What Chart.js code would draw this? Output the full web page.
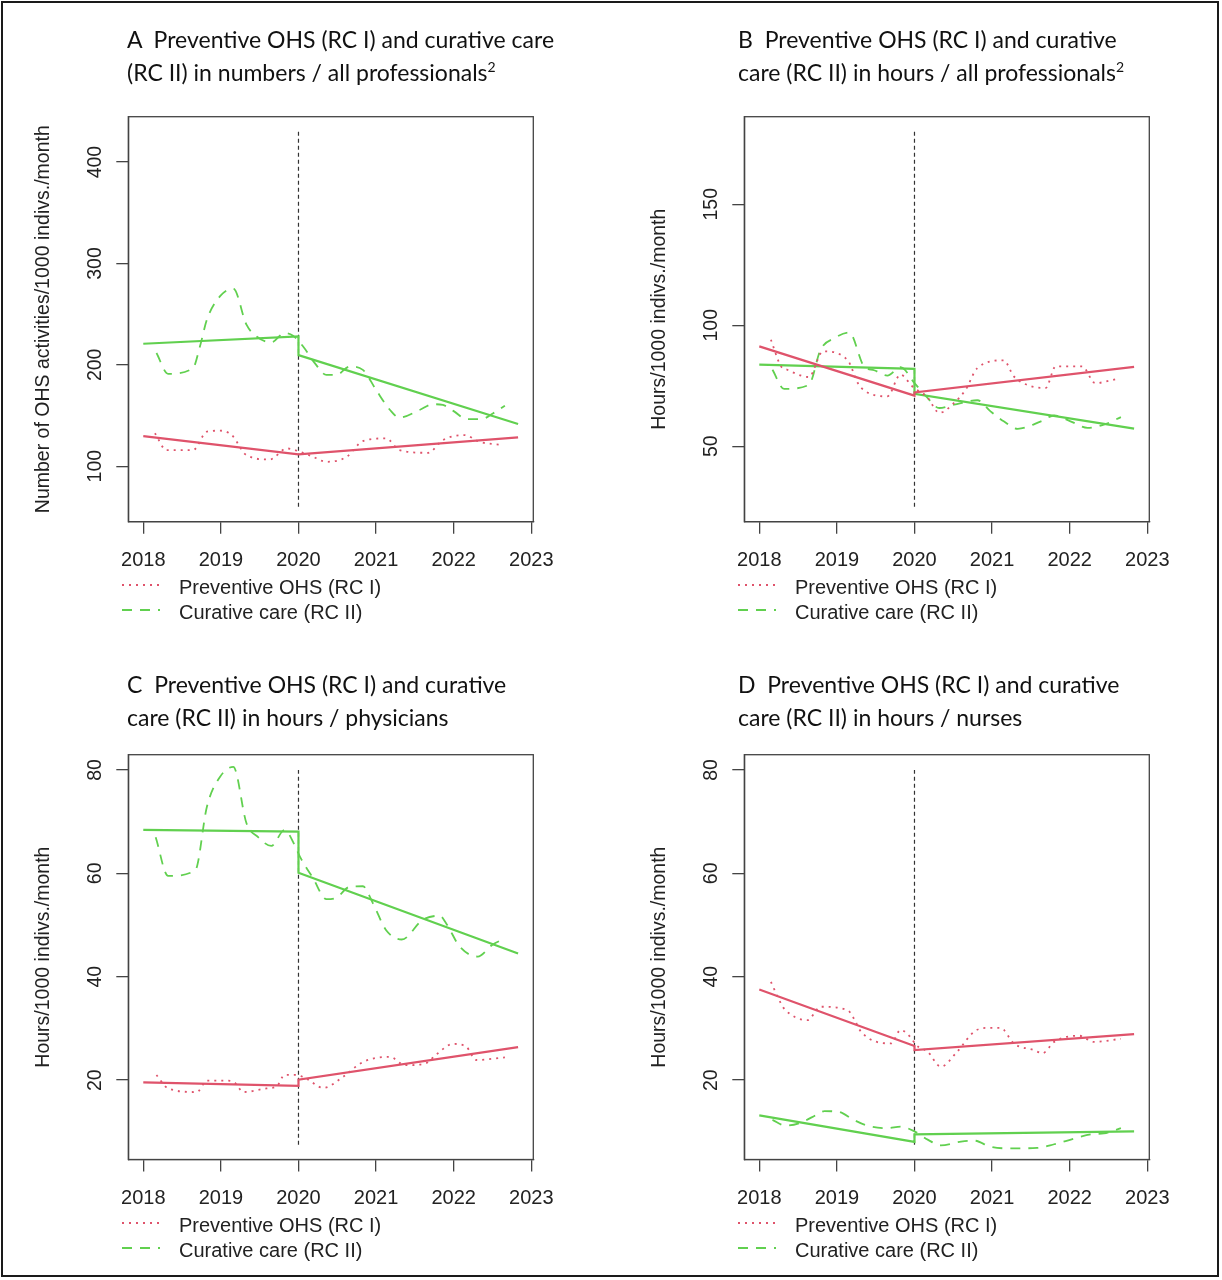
<!DOCTYPE html>
<html>
<head>
<meta charset="utf-8">
<script src="https://cdn.jsdelivr.net/npm/chart.js@4.4.1/dist/chart.umd.min.js"></script>
<style>
html,body{margin:0;padding:0;background:#fff;}
#page{position:relative;width:1222px;height:1280px;overflow:hidden;background:#fff;}
#frame{position:absolute;left:1px;top:1px;width:1214px;height:1272px;border:2px solid #1a1a1a;}
canvas{position:absolute;}
.title{position:absolute;font-family:Lato,'Open Sans',sans-serif;font-size:23px;line-height:33px;color:#111;white-space:pre;}
.title sup{font-size:14px;line-height:0;vertical-align:9px;}
.leg{position:absolute;font-family:'Liberation Sans',Arial,sans-serif;font-size:20px;line-height:24px;color:#222;white-space:nowrap;}
.legsw{position:absolute;}
</style>
</head>
<body>
<div id="page">
  <div id="frame"></div>
  <canvas id="cA" width="606" height="640" style="left:0px;top:0px"></canvas>
  <canvas id="cB" width="606" height="640" style="left:616px;top:0px"></canvas>
  <canvas id="cC" width="606" height="640" style="left:0px;top:640px"></canvas>
  <canvas id="cD" width="606" height="640" style="left:616px;top:640px"></canvas>

  <div class="title" style="left:127px;top:23px">A  Preventive OHS (RC I) and curative care<br>(RC II) in numbers / all professionals<sup>2</sup></div>
  <div class="title" style="left:738px;top:23px">B  Preventive OHS (RC I) and curative<br>care (RC II) in hours / all professionals<sup>2</sup></div>
  <div class="title" style="left:127px;top:668px">C  Preventive OHS (RC I) and curative<br>care (RC II) in hours / physicians</div>
  <div class="title" style="left:738px;top:668px">D  Preventive OHS (RC I) and curative<br>care (RC II) in hours / nurses</div>
  <div id="legends"></div>
</div>
<script>
// ---------- shared ----------
const RED = '#DF536B';
const GREEN = '#61D04F';
const xTickYears = [2018, 2019, 2020, 2021, 2022, 2023];
const fitX = [2018, 2020, 2020, 2022.83];
const legendLabels = ['Preventive OHS (RC I)', 'Curative care (RC II)'];

// ---------- Panel A: numbers / all professionals ----------
const A_prevX = [2018.15,2018.30,2018.64,2018.82,2018.99,2019.14,2019.33,2019.63,2019.85,2020.02,2020.19,2020.36,2020.62,2020.83,2021.13,2021.30,2021.67,2021.86,2022.14,2022.33,2022.64];
const A_prevY = [132.4,115.8,115.8,134.0,135.0,130.7,110.9,106.6,117.5,114.2,109.2,104.3,109.2,124.8,127.4,115.8,113.2,125.7,130.7,124.1,120.8];
const A_curX  = [2018.17,2018.32,2018.64,2018.73,2018.82,2018.99,2019.16,2019.33,2019.46,2019.65,2019.82,2019.93,2020.06,2020.21,2020.36,2020.49,2020.66,2020.83,2021.00,2021.18,2021.30,2021.56,2021.73,2021.86,2022.01,2022.16,2022.36,2022.51,2022.66];
const A_curY  = [211.6,191.1,196.7,218.1,244.6,267.7,275.2,239.6,228.0,222.1,231.4,228.7,218.1,201.7,190.1,190.1,198.3,195.0,175.2,155.4,147.9,155.4,161.1,160.4,153.8,146.5,146.5,152.2,159.7];
const A_prevFit = [129.7, 111.6, 111.6, 128.4];
const A_curFit  = [220.8, 228.0, 209.6, 141.6];
const A_yTicks = [100, 200, 300, 400];

// ---------- Panel B: hours / all professionals ----------
const B_prevX = [2018.15,2018.28,2018.36,2018.64,2018.82,2019.14,2019.27,2019.35,2019.65,2019.82,2019.97,2020.17,2020.32,2020.51,2020.66,2020.81,2021.15,2021.28,2021.50,2021.69,2021.82,2022.16,2022.33,2022.61];
const B_prevY = [94.0,83.0,81.6,78.6,89.2,85.5,76.1,73.1,70.6,79.6,74.8,70.0,63.8,67.9,73.4,82.3,85.5,78.9,74.8,74.1,83.0,83.0,76.1,77.8];
const B_curX  = [2018.17,2018.32,2018.64,2018.79,2018.97,2019.16,2019.35,2019.48,2019.65,2019.82,2020.00,2020.15,2020.32,2020.51,2020.81,2020.98,2021.15,2021.33,2021.63,2021.80,2022.01,2022.23,2022.44,2022.66];
const B_curY  = [81.6,73.7,75.4,89.9,94.7,97.0,83.0,81.4,79.2,82.7,76.1,70.6,65.8,67.2,69.0,64.4,60.3,57.2,60.3,62.7,60.3,57.6,58.9,62.0];
const B_prevFit = [91.25, 70.9, 72.2, 82.8];
const B_curFit  = [83.7, 82.0, 71.7, 57.3];
const B_yTicks = [50, 100, 150];

// ---------- Panel C: hours / physicians ----------
const C_prevX = [2018.17,2018.32,2018.69,2018.82,2019.09,2019.18,2019.29,2019.59,2019.72,2019.82,2019.97,2020.10,2020.32,2020.58,2020.83,2021.18,2021.37,2021.63,2021.78,2021.99,2022.16,2022.29,2022.66];
const C_prevY = [21.0,18.4,17.7,19.9,19.9,19.5,17.7,18.4,18.8,21.0,21.0,20.3,18.5,20.7,23.5,24.5,22.9,23.2,25.0,27.0,26.5,23.9,24.4];
const C_curX  = [2018.16,2018.32,2018.67,2018.82,2018.99,2019.16,2019.33,2019.48,2019.65,2019.82,2019.95,2020.02,2020.19,2020.36,2020.49,2020.66,2020.83,2020.96,2021.13,2021.33,2021.60,2021.82,2021.90,2022.08,2022.31,2022.50,2022.66];
const C_curY  = [67.0,59.5,60.6,72.9,78.7,80.6,69.7,67.0,65.3,68.4,65.5,63.2,59.0,55.0,55.3,57.4,57.5,54.2,49.0,47.2,51.0,51.8,50.4,45.8,43.9,46.2,47.4];
const C_prevFit = [19.55, 18.9, 20.1, 26.4];
const C_curFit  = [68.4, 68.06, 60.1, 44.5];

// ---------- Panel D: hours / nurses ----------
const D_prevX = [2018.15,2018.28,2018.34,2018.62,2018.79,2019.14,2019.22,2019.31,2019.70,2019.82,2019.95,2020.02,2020.17,2020.34,2020.55,2020.77,2020.94,2021.11,2021.28,2021.54,2021.65,2021.80,2022.12,2022.31,2022.66];
const D_prevY = [39.0,34.8,33.5,31.6,34.2,33.5,31.9,29.4,27.1,29.7,28.3,26.8,25.5,22.6,25.5,29.4,30.1,30.1,27.1,25.8,25.2,27.4,28.6,27.4,28.0];
const D_curX  = [2018.17,2018.34,2018.54,2018.75,2018.84,2019.01,2019.22,2019.39,2019.65,2019.82,2020.00,2020.17,2020.34,2020.60,2020.77,2020.98,2021.24,2021.58,2021.80,2022.06,2022.27,2022.44,2022.66];
const D_curY  = [12.3,11.2,11.8,13.4,14.0,13.9,12.3,11.2,10.7,11.0,10.1,8.5,7.4,8.1,8.3,7.1,6.8,6.9,7.6,8.7,9.5,9.7,10.7];
const D_prevFit = [37.55, 26.6, 25.8, 28.9];
const D_curFit  = [13.2, 8.06, 9.5, 10.1];
const CD_yTicks = [20, 40, 60, 80];

// axis ranges (R style ylim with 4% extension) and 2020 marker span
const A_yRange = [45.2, 444.8], A_vline = [60, 430];
const B_yRange = [18.8, 186.2], B_vline = [25, 180];
const CD_yRange = [4.65, 82.95], CD_vline = [7.5, 80];
const xRange = [2017.807, 2023.026];

const yTitleA = 'Number of OHS activities/1000 indivs./month';
const yTitleH = 'Hours/1000 indivs./month';

// ---------- helpers ----------
function pts(xs, ys) { return xs.map((x, i) => ({x: x, y: ys[i]})); }

const boxAndYLabels = {
  id: 'boxAndYLabels',
  afterDraw(chart) {
    const ctx = chart.ctx, s = chart.scales.y, a = chart.chartArea;
    ctx.save();
    ctx.strokeStyle = '#444';
    ctx.lineWidth = 1.3;
    ctx.strokeRect(a.left, a.top, a.right - a.left, a.bottom - a.top);
    ctx.font = '19.5px "Liberation Sans", Arial, sans-serif';
    ctx.fillStyle = '#222';
    ctx.textAlign = 'center';
    ctx.textBaseline = 'middle';
    s.ticks.forEach(t => {
      const py = s.getPixelForValue(t.value);
      ctx.save();
      ctx.translate(95, py);
      ctx.rotate(-Math.PI / 2);
      ctx.fillText(String(t.value), 0, 1);
      ctx.restore();
    });
    ctx.restore();
  }
};

function makePanel(id, p) {
  const H = 640;
  new Chart(document.getElementById(id), {
    type: 'line',
    data: {
      datasets: [
        {label: legendLabels[0], data: pts(p.prevX, p.prevY), borderColor: RED, borderWidth: 1.8,
         borderDash: [2, 5], pointRadius: 0, cubicInterpolationMode: 'monotone', fill: false},
        {label: legendLabels[1], data: pts(p.curX, p.curY), borderColor: GREEN, borderWidth: 1.8,
         borderDash: [10, 8], pointRadius: 0, cubicInterpolationMode: 'monotone', fill: false},
        {label: 'fit RC I', data: pts(fitX, p.prevFit), borderColor: RED, borderWidth: 2.2,
         pointRadius: 0, tension: 0, fill: false},
        {label: 'fit RC II', data: pts(fitX, p.curFit), borderColor: GREEN, borderWidth: 2.2,
         pointRadius: 0, tension: 0, fill: false},
        {label: '2020', data: pts([2020, 2020], p.vline), borderColor: '#333', borderWidth: 1.2,
         borderDash: [4, 3], pointRadius: 0, tension: 0, fill: false}
      ]
    },
    options: {
      responsive: false,
      animation: false,
      events: [],
      layout: {padding: {left: 0, right: 606 - 533.3, top: p.top, bottom: 0}},
      plugins: {legend: {display: false}, tooltip: {enabled: false}},
      scales: {
        x: {
          type: 'linear', min: xRange[0], max: xRange[1],
          ticks: {padding: 15, color: '#222', maxRotation: 0,
                  font: {family: '"Liberation Sans", Arial, sans-serif', size: 20},
                  callback: v => String(v)},
          afterBuildTicks: s => { s.ticks = xTickYears.map(v => ({value: v})); },
          grid: {display: true, drawOnChartArea: false, drawTicks: true, tickLength: 12, color: '#444', lineWidth: 1.3},
          border: {display: true, color: '#444', width: 1.3},
          afterFit: s => { s.height = H - p.bottom; }
        },
        y: {
          type: 'linear', min: p.yRange[0], max: p.yRange[1],
          ticks: {display: false},
          afterBuildTicks: s => { s.ticks = p.yTicks.map(v => ({value: v})); },
          grid: {display: true, drawOnChartArea: false, drawTicks: true, tickLength: 12, color: '#444', lineWidth: 1.3},
          border: {display: true, color: '#444', width: 1.3},
          title: {display: true, text: p.yTitle, color: '#222', padding: {top: 32, bottom: 0},
                  font: {family: '"Liberation Sans", Arial, sans-serif', size: 19.5}},
          afterFit: s => { s.width = 128.3; }
        }
      }
    },
    plugins: [boxAndYLabels]
  });
}

makePanel('cA', {prevX: A_prevX, prevY: A_prevY, curX: A_curX, curY: A_curY, prevFit: A_prevFit, curFit: A_curFit,
  yRange: A_yRange, yTicks: A_yTicks, vline: A_vline, yTitle: yTitleA, top: 116.7, bottom: 521.7});
makePanel('cB', {prevX: B_prevX, prevY: B_prevY, curX: B_curX, curY: B_curY, prevFit: B_prevFit, curFit: B_curFit,
  yRange: B_yRange, yTicks: B_yTicks, vline: B_vline, yTitle: yTitleH, top: 116.7, bottom: 521.7});
makePanel('cC', {prevX: C_prevX, prevY: C_prevY, curX: C_curX, curY: C_curY, prevFit: C_prevFit, curFit: C_curFit,
  yRange: CD_yRange, yTicks: CD_yTicks, vline: CD_vline, yTitle: yTitleH, top: 114.7, bottom: 519.5});
makePanel('cD', {prevX: D_prevX, prevY: D_prevY, curX: D_curX, curY: D_curY, prevFit: D_prevFit, curFit: D_curFit,
  yRange: CD_yRange, yTicks: CD_yTicks, vline: CD_vline, yTitle: yTitleH, top: 114.7, bottom: 519.5});

// ---------- legends (below each x axis) ----------
const legendOrigins = [[0, 521.7], [616, 521.7], [0, 1159.5], [616, 1159.5]];
const legHost = document.getElementById('legends');
legendOrigins.forEach(([ox, by]) => {
  [[RED, '2 5', 0], [GREEN, '10 8', 1]].forEach(([col, dash, r]) => {
    const cy = by + 63 + r * 25;
    const sw = document.createElementNS('http://www.w3.org/2000/svg', 'svg');
    sw.setAttribute('class', 'legsw');
    sw.setAttribute('width', '40'); sw.setAttribute('height', '6');
    sw.style.left = (ox + 122) + 'px'; sw.style.top = (cy - 3) + 'px';
    const ln = document.createElementNS('http://www.w3.org/2000/svg', 'line');
    ln.setAttribute('x1', '0'); ln.setAttribute('y1', '3'); ln.setAttribute('x2', '38'); ln.setAttribute('y2', '3');
    ln.setAttribute('stroke', col); ln.setAttribute('stroke-width', '1.8'); ln.setAttribute('stroke-dasharray', dash);
    sw.appendChild(ln);
    legHost.appendChild(sw);
    const t = document.createElement('div');
    t.className = 'leg';
    t.textContent = legendLabels[r];
    t.style.left = (ox + 179) + 'px';
    t.style.top = (cy + 2 - 12) + 'px';
    legHost.appendChild(t);
  });
});
</script>
</body>
</html>
